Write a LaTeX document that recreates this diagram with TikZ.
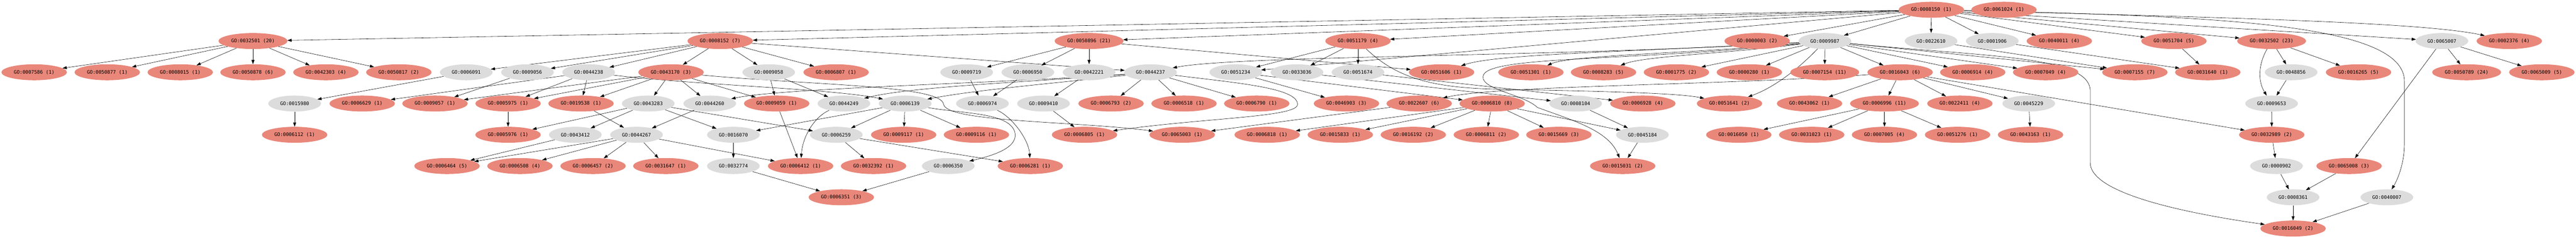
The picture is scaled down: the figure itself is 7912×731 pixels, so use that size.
\documentclass[tikz,border=0pt]{standalone}
\usepackage{fontspec}
\newfontfamily\gofont{DejaVu Sans Mono}
\newcommand\golabel{\gofont\fontsize{14.8}{16}\selectfont}
\usetikzlibrary{shapes.geometric,arrows.meta}
\definecolor{hitred}{RGB}{233,135,122}
\definecolor{termgray}{RGB}{220,220,220}
\pgfdeclarelayer{background}
\pgfsetlayers{background,main}

\begin{document}
\begin{tikzpicture}[x=1pt, y=-1pt,
    hit/.style={ellipse, fill=hitred, minimum width=201pt, minimum height=49pt, inner xsep=8pt, inner ysep=2pt, font=\golabel},
    term/.style={ellipse, fill=termgray, minimum width=162pt, minimum height=49pt, inner xsep=8pt, inner ysep=2pt, font=\golabel},
    arrow/.style={-{Triangle[length=13pt, width=9pt]}, line width=0.9pt}
]
\begin{pgfonlayer}{background}
\fill[white] (0,0) rectangle (7912,731);
\end{pgfonlayer}
\useasboundingbox (0,0) rectangle (7912,731);

% Row 0
\node[hit] (go0008150) at (5932, 30) {GO:0008150 (1)};
\node[hit] (go0061024) at (6155, 30) {GO:0061024 (1)};

% Row 1
\node[hit] (go0032501) at (777, 126) {GO:0032501 (20)};
\node[hit] (go0008152) at (2212, 126) {GO:0008152 (7)};
\node[hit] (go0050896) at (3345, 126) {GO:0050896 (21)};
\node[hit] (go0051179) at (4171, 126) {GO:0051179 (4)};
\node[hit] (go0000003) at (5397, 126) {GO:0000003 (2)};
\node[term] (go0009987) at (5605, 126) {GO:0009987};
\node[term] (go0022610) at (5931, 126) {GO:0022610};
\node[term] (go0001906) at (6119, 126) {GO:0001906};
\node[hit] (go0040011) at (6325, 126) {GO:0040011 (4)};
\node[hit] (go0051704) at (6677, 126) {GO:0051704 (5)};
\node[hit] (go0032502) at (6977, 126) {GO:0032502 (23)};
\node[term] (go0065007) at (7500, 126) {GO:0065007};
\node[hit] (go0002376) at (7707, 126) {GO:0002376 (4)};

% Row 2
\node[hit] (go0007586) at (105, 222) {GO:0007586 (1)};
\node[hit] (go0050877) at (329.5, 222) {GO:0050877 (1)};
\node[hit] (go0008015) at (553.6, 222) {GO:0008015 (1)};
\node[hit] (go0050878) at (777, 222) {GO:0050878 (6)};
\node[hit] (go0042303) at (1001, 222) {GO:0042303 (4)};
\node[hit] (go0050817) at (1225, 222) {GO:0050817 (2)};
\node[term] (go0006091) at (1432, 222) {GO:0006091};
\node[term] (go0009056) at (1620, 222) {GO:0009056};
\node[term] (go0044238) at (1808, 222) {GO:0044238};
\node[hit] (go0043170) at (2061, 222) {GO:0043170 (3)};
\node[term] (go0009058) at (2361, 222) {GO:0009058};
\node[hit] (go0006807) at (2568, 222) {GO:0006807 (1)};
\node[term] (go0009719) at (2969, 222) {GO:0009719};
\node[term] (go0006950) at (3157, 222) {GO:0006950};
\node[term] (go0042221) at (3345, 222) {GO:0042221};
\node[term] (go0044237) at (3533.5, 222) {GO:0044237};
\node[term] (go0051234) at (3795.5, 222) {GO:0051234};
\node[term] (go0033036) at (3983.5, 222) {GO:0033036};
\node[term] (go0051674) at (4171, 222) {GO:0051674};
\node[hit] (go0051606) at (4427.7, 222) {GO:0051606 (1)};
\node[hit] (go0051301) at (4702, 222) {GO:0051301 (1)};
\node[hit] (go0008283) at (4925, 222) {GO:0008283 (5)};
\node[hit] (go0001775) at (5149, 222) {GO:0001775 (2)};
\node[hit] (go0000280) at (5373, 222) {GO:0000280 (1)};
\node[hit] (go0007154) at (5604.5, 222) {GO:0007154 (11)};
\node[hit] (go0016043) at (5836, 222) {GO:0016043 (6)};
\node[hit] (go0006914) at (6059, 222) {GO:0006914 (4)};
\node[hit] (go0007049) at (6283, 222) {GO:0007049 (4)};
\node[hit] (go0007155) at (6557, 222) {GO:0007155 (7)};
\node[hit] (go0031640) at (6781, 222) {GO:0031640 (1)};
\node[term] (go0048856) at (7037, 222) {GO:0048856};
\node[hit] (go0016265) at (7244, 222) {GO:0016265 (5)};
\node[hit] (go0050789) at (7576, 222) {GO:0050789 (24)};
\node[hit] (go0065009) at (7807, 222) {GO:0065009 (5)};

% Row 3
\node[term] (go0015980) at (905, 318) {GO:0015980};
\node[hit] (go0006629) at (1112.5, 318) {GO:0006629 (1)};
\node[hit] (go0009057) at (1336, 318) {GO:0009057 (1)};
\node[hit] (go0005975) at (1560.5, 318) {GO:0005975 (1)};
\node[hit] (go0019538) at (1784.5, 318) {GO:0019538 (1)};
\node[term] (go0043283) at (1991, 318) {GO:0043283};
\node[term] (go0044260) at (2180, 318) {GO:0044260};
\node[hit] (go0009059) at (2385.5, 318) {GO:0009059 (1)};
\node[term] (go0044249) at (2592, 318) {GO:0044249};
\node[term] (go0006139) at (2780, 318) {GO:0006139};
\node[term] (go0006974) at (3017.5, 318) {GO:0006974};
\node[term] (go0009410) at (3205, 318) {GO:0009410};
\node[hit] (go0006793) at (3412.5, 318) {GO:0006793 (2)};
\node[hit] (go0006518) at (3636.6, 318) {GO:0006518 (1)};
\node[hit] (go0006790) at (3860, 318) {GO:0006790 (1)};
\node[hit] (go0046903) at (4135.5, 318) {GO:0046903 (3)};
\node[hit] (go0022607) at (4359, 318) {GO:0022607 (6)};
\node[hit] (go0006810) at (4583, 318) {GO:0006810 (8)};
\node[term] (go0008104) at (4839.5, 318) {GO:0008104};
\node[hit] (go0006928) at (5045.8, 318) {GO:0006928 (4)};
\node[hit] (go0051641) at (5312, 318) {GO:0051641 (2)};
\node[hit] (go0043062) at (5557.8, 318) {GO:0043062 (1)};
\node[hit] (go0006996) at (5788, 318) {GO:0006996 (11)};
\node[hit] (go0022411) at (6019.6, 318) {GO:0022411 (4)};
\node[term] (go0045229) at (6231, 318) {GO:0045229};
\node[term] (go0009653) at (6977, 318) {GO:0009653};

% Row 4
\node[hit] (go0006112) at (905, 414) {GO:0006112 (1)};
\node[hit] (go0005976) at (1560.5, 414) {GO:0005976 (1)};
\node[term] (go0043412) at (1767, 414) {GO:0043412};
\node[term] (go0044267) at (1955, 414) {GO:0044267};
\node[term] (go0016070) at (2252.5, 414) {GO:0016070};
\node[term] (go0006259) at (2568.5, 414) {GO:0006259};
\node[hit] (go0009117) at (2775.5, 414) {GO:0009117 (1)};
\node[hit] (go0009116) at (2999, 414) {GO:0009116 (1)};
\node[hit] (go0006805) at (3331, 414) {GO:0006805 (1)};
\node[hit] (go0065003) at (3631, 414) {GO:0065003 (1)};
\node[hit] (go0006818) at (3892, 414) {GO:0006818 (1)};
\node[hit] (go0015833) at (4116.5, 414) {GO:0015833 (1)};
\node[hit] (go0016192) at (4340.8, 414) {GO:0016192 (2)};
\node[hit] (go0006811) at (4565, 414) {GO:0006811 (2)};
\node[hit] (go0015669) at (4788, 414) {GO:0015669 (3)};
\node[term] (go0045184) at (5044.5, 414) {GO:0045184};
\node[hit] (go0016050) at (5340.6, 414) {GO:0016050 (1)};
\node[hit] (go0031023) at (5564.5, 414) {GO:0031023 (1)};
\node[hit] (go0007005) at (5788, 414) {GO:0007005 (4)};
\node[hit] (go0051276) at (6012.5, 414) {GO:0051276 (1)};
\node[hit] (go0043163) at (6236.6, 414) {GO:0043163 (1)};
\node[hit] (go0032989) at (6977.5, 414) {GO:0032989 (2)};

% Row 5
\node[hit] (go0006464) at (1373, 510) {GO:0006464 (5)};
\node[hit] (go0006508) at (1597, 510) {GO:0006508 (4)};
\node[hit] (go0006457) at (1821.5, 510) {GO:0006457 (2)};
\node[hit] (go0031647) at (2045, 510) {GO:0031647 (1)};
\node[term] (go0032774) at (2252.5, 510) {GO:0032774};
\node[hit] (go0006412) at (2459, 510) {GO:0006412 (1)};
\node[hit] (go0032392) at (2683, 510) {GO:0032392 (1)};
\node[term] (go0006350) at (2912.5, 510) {GO:0006350};
\node[hit] (go0006281) at (3164.5, 510) {GO:0006281 (1)};
\node[hit] (go0015031) at (4984, 510) {GO:0015031 (2)};
\node[term] (go0000902) at (6992, 510) {GO:0000902};
\node[hit] (go0065008) at (7215, 510) {GO:0065008 (3)};

% Row 6 and 7
\node[hit] (go0006351) at (2584, 606) {GO:0006351 (3)};
\node[term] (go0008361) at (7043, 606) {GO:0008361};
\node[term] (go0040007) at (7331, 606) {GO:0040007};
\node[hit] (go0016049) at (7043, 702) {GO:0016049 (2)};

\begin{pgfonlayer}{background}
% Edges from the root
\draw[arrow] (go0008150) -- (go0032501);
\draw[arrow] (go0008150) -- (go0008152);
\draw[arrow] (go0008150) -- (go0050896);
\draw[arrow] (go0008150) -- (go0051179);
\draw[arrow] (go0008150) -- (go0051234);
\draw[arrow] (go0008150) -- (go0000003);
\draw[arrow] (go0008150) -- (go0009987);
\draw[arrow] (go0008150) -- (go0022610);
\draw[arrow] (go0008150) -- (go0001906);
\draw[arrow] (go0008150) -- (go0040011);
\draw[arrow] (go0008150) -- (go0051704);
\draw[arrow] (go0008150) -- (go0032502);
\draw[arrow] (go0008150) -- (go0065007);
\draw[arrow] (go0008150) .. controls (6900,55) and (7450,70) .. (go0002376);
\draw[arrow] (go0008150) .. controls (6800,50) and (7385,70) .. (7385,250) -- (7385,440) .. controls (7385,500) and (7365,550) .. (go0040007);

% Row 1 to lower rows
\draw[arrow] (go0032501) -- (go0007586);
\draw[arrow] (go0032501) -- (go0050877);
\draw[arrow] (go0032501) -- (go0008015);
\draw[arrow] (go0032501) -- (go0050878);
\draw[arrow] (go0032501) -- (go0042303);
\draw[arrow] (go0032501) -- (go0050817);
\draw[arrow] (go0008152) -- (go0006091);
\draw[arrow] (go0008152) -- (go0009056);
\draw[arrow] (go0008152) -- (go0044238);
\draw[arrow] (go0008152) -- (go0043170);
\draw[arrow] (go0008152) -- (go0009058);
\draw[arrow] (go0008152) -- (go0006807);
\draw[arrow] (go0008152) -- (go0044237);
\draw[arrow] (go0050896) -- (go0009719);
\draw[arrow] (go0050896) -- (go0006950);
\draw[arrow] (go0050896) -- (go0042221);
\draw[arrow] (go0050896) -- (go0051606);
\draw[arrow] (go0051179) -- (go0033036);
\draw[arrow] (go0051179) -- (go0051674);
\draw[arrow] (go0051179) -- (go0051234);
\draw[arrow] (go0051179) .. controls (4290,240) and (4400,270) .. (4600,274) .. controls (4900,280) and (5150,285) .. (go0051641);
\draw[arrow] (go0009987) .. controls (4800,175) and (3800,170) .. (go0044237);
\draw[arrow] (go0009987) .. controls (5000,160) and (4600,165) .. (go0051606);
\draw[arrow] (go0009987) .. controls (5000,190) and (4560,170) .. (4555,235) .. controls (4550,275) and (4680,290) .. (4722,330) .. controls (4830,370) and (4940,400) .. (go0015031);
\draw[arrow] (go0009987) .. controls (5200,165) and (4830,168) .. (go0051301);
\draw[arrow] (go0009987) .. controls (5300,165) and (5050,172) .. (go0008283);
\draw[arrow] (go0009987) -- (go0001775);
\draw[arrow] (go0009987) -- (go0000280);
\draw[arrow] (go0009987) -- (go0007154);
\draw[arrow] (go0009987) -- (go0016043);
\draw[arrow] (go0009987) .. controls (5540,195) and (5460,265) .. (go0051641);
\draw[arrow] (go0009987) -- (go0006914);
\draw[arrow] (go0009987) -- (go0007049);
\draw[arrow] (go0009987) -- (go0007155);
\draw[arrow] (go0009987) .. controls (6100,175) and (6420,170) .. (6420,280) -- (6420,500) .. controls (6420,600) and (6750,660) .. (go0016049);
\draw[arrow] (go0022610) -- (go0007155);
\draw[arrow] (go0001906) -- (go0031640);
\draw[arrow] (go0051704) -- (go0031640);
\draw[arrow] (go0032502) -- (go0048856);
\draw[arrow] (go0032502) .. controls (6935,200) and (6935,250) .. (go0009653);
\draw[arrow] (go0032502) -- (go0016265);
\draw[arrow] (go0065007) -- (go0050789);
\draw[arrow] (go0065007) -- (go0065009);
\draw[arrow] (go0065007) -- (go0065008);

% Row 2 to lower rows
\draw[arrow] (go0006091) -- (go0015980);
\draw[arrow] (go0009056) -- (go0009057);
\draw[arrow] (go0044238) -- (go0006629);
\draw[arrow] (go0044238) -- (go0005975);
\draw[arrow] (go0044238) -- (go0019538);
\draw[arrow] (go0044238) .. controls (2150,262) and (2550,272) .. (go0006139);
\draw[arrow] (go0043170) -- (go0009057);
\draw[arrow] (go0043170) -- (go0005975);
\draw[arrow] (go0043170) -- (go0019538);
\draw[arrow] (go0043170) -- (go0043283);
\draw[arrow] (go0043170) -- (go0044260);
\draw[arrow] (go0043170) -- (go0009059);
\draw[arrow] (go0043170) .. controls (2500,262) and (2890,262) .. (2898,320) .. controls (2905,375) and (3300,372) .. (go0065003);
\draw[arrow] (go0009058) -- (go0009059);
\draw[arrow] (go0009058) -- (go0044249);
\draw[arrow] (go0044237) .. controls (3100,255) and (2400,270) .. (go0044260);
\draw[arrow] (go0044237) .. controls (3200,250) and (2800,265) .. (go0044249);
\draw[arrow] (go0044237) .. controls (3300,250) and (3000,275) .. (go0006139);
\draw[arrow] (go0044237) -- (go0006793);
\draw[arrow] (go0044237) -- (go0006518);
\draw[arrow] (go0044237) -- (go0006790);
\draw[arrow] (go0044237) .. controls (3800,255) and (3990,270) .. (3985,322) .. controls (3980,360) and (3700,362) .. (go0006805);
\draw[arrow] (go0009719) -- (go0006974);
\draw[arrow] (go0006950) -- (go0006974);
\draw[arrow] (go0042221) -- (go0009410);
\draw[arrow] (go0051234) -- (go0046903);
\draw[arrow] (go0051234) -- (go0006810);
\draw[arrow] (go0033036) -- (go0008104);
\draw[arrow] (go0051674) -- (go0006928);
\draw[arrow] (go0016043) .. controls (5300,262) and (4600,262) .. (go0022607);
\draw[arrow] (go0016043) -- (go0043062);
\draw[arrow] (go0016043) -- (go0006996);
\draw[arrow] (go0016043) -- (go0022411);
\draw[arrow] (go0016043) -- (go0045229);
\draw[arrow] (go0016043) -- (go0032989);
\draw[arrow] (go0048856) -- (go0009653);

% Row 3 to lower rows
\draw[arrow] (go0015980) -- (go0006112);
\draw[arrow] (go0005975) -- (go0005976);
\draw[arrow] (go0019538) -- (go0044267);
\draw[arrow] (go0043283) -- (go0005976);
\draw[arrow] (go0043283) -- (go0043412);
\draw[arrow] (go0043283) -- (go0016070);
\draw[arrow] (go0043283) -- (go0006259);
\draw[arrow] (go0044260) -- (go0044267);
\draw[arrow] (go0009059) -- (go0006412);
\draw[arrow] (go0044249) .. controls (2500,360) and (2465,420) .. (go0006412);
\draw[arrow] (go0006139) -- (go0016070);
\draw[arrow] (go0006139) -- (go0006259);
\draw[arrow] (go0006139) -- (go0009117);
\draw[arrow] (go0006139) -- (go0009116);
\draw[arrow] (go0006139) .. controls (2960,350) and (3110,345) .. (3118,412) .. controls (3122,455) and (3050,478) .. (go0006350);
\draw[arrow] (go0006974) .. controls (3110,360) and (3160,430) .. (go0006281);
\draw[arrow] (go0009410) -- (go0006805);
\draw[arrow] (go0022607) -- (go0065003);
\draw[arrow] (go0006810) -- (go0006818);
\draw[arrow] (go0006810) -- (go0015833);
\draw[arrow] (go0006810) -- (go0016192);
\draw[arrow] (go0006810) -- (go0006811);
\draw[arrow] (go0006810) -- (go0015669);
\draw[arrow] (go0006810) -- (go0045184);
\draw[arrow] (go0008104) -- (go0045184);
\draw[arrow] (go0006996) -- (go0016050);
\draw[arrow] (go0006996) -- (go0031023);
\draw[arrow] (go0006996) -- (go0007005);
\draw[arrow] (go0006996) -- (go0051276);
\draw[arrow] (go0045229) -- (go0043163);
\draw[arrow] (go0009653) -- (go0032989);

% Row 4 and below
\draw[arrow] (go0043412) -- (go0006464);
\draw[arrow] (go0044267) -- (go0006464);
\draw[arrow] (go0044267) -- (go0006508);
\draw[arrow] (go0044267) -- (go0006457);
\draw[arrow] (go0044267) -- (go0031647);
\draw[arrow] (go0044267) -- (go0006412);
\draw[arrow] (go0016070) -- (go0032774);
\draw[arrow] (go0006259) -- (go0032392);
\draw[arrow] (go0006259) -- (go0006281);
\draw[arrow] (go0045184) -- (go0015031);
\draw[arrow] (go0032989) -- (go0000902);
\draw[arrow] (go0032774) -- (go0006351);
\draw[arrow] (go0006350) -- (go0006351);
\draw[arrow] (go0000902) -- (go0008361);
\draw[arrow] (go0065008) -- (go0008361);
\draw[arrow] (go0008361) -- (go0016049);
\draw[arrow] (go0040007) -- (go0016049);
\end{pgfonlayer}

\end{tikzpicture}
\end{document}
